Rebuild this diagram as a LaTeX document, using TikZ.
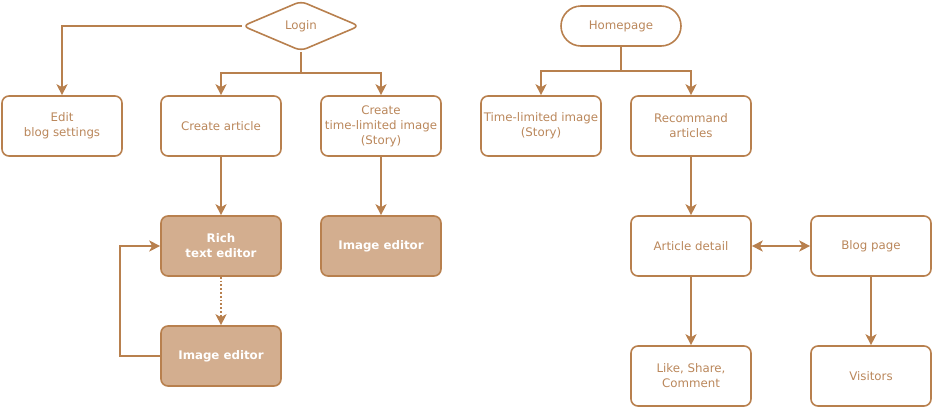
\documentclass[tikz,border=0pt]{standalone}
\usepackage{fontspec}
\setmainfont{DejaVu Sans}
\usetikzlibrary{arrows.meta,shapes.geometric}
\definecolor{brd}{HTML}{B8804E}
\definecolor{txt}{HTML}{BA875B}
\definecolor{fil}{HTML}{D3AE8F}
\tikzset{
  box/.style={draw=brd, line width=1.6pt, rounded corners=7pt, minimum width=120pt, minimum height=60pt, inner sep=1pt, align=center, text=txt, font=\fontsize{11.8}{15}\selectfont},
  darkbox/.style={box, fill=fil, text=white, font=\fontsize{11.8}{15}\selectfont\bfseries},
  mytip/.tip={Stealth[length=11pt,width=11pt,inset=3pt]},
  conn/.style={draw=brd, line width=1.8pt, -mytip},
  plainline/.style={draw=brd, line width=1.8pt},
}
\begin{document}
\begin{tikzpicture}[x=1pt,y=-1pt]
\useasboundingbox (0,0) rectangle (932,407);
% nodes
\node[diamond, aspect=2.4, draw=brd, line width=1.6pt, rounded corners=6pt, minimum width=117pt, minimum height=50pt, inner sep=0pt, text=txt, font=\fontsize{11.8}{15}\selectfont] (login) at (301,26) {Login};
\node[box] (edit) at (62,126) {Edit\\blog settings};
\node[box] (create) at (221,126) {Create article};
\node[box] (ctime) at (381,126) {Create\\time-limited image\\(Story)};
\node[darkbox] (rich) at (221,246) {Rich\\text editor};
\node[darkbox] (imgr) at (381,246) {Image editor};
\node[darkbox] (imgb) at (221,356) {Image editor};
\node[box, rounded corners=20pt, minimum height=40pt] (home) at (621,26) {Homepage};
\node[box] (story) at (541,126) {Time-limited image\\(Story)};
\node[box] (rec) at (691,126) {Recommand\\articles};
\node[box] (art) at (691,246) {Article detail};
\node[box] (blog) at (871,246) {Blog page};
\node[box] (like) at (691,376) {Like, Share,\\Comment};
\node[box] (vis) at (871,376) {Visitors};
% helper coordinates
\coordinate (lsplit) at (301,73);
\coordinate (hsplit) at (621,71);
% connectors
\draw[conn] (login.west) -| (edit.north);
\draw[plainline] (login.south) -- (lsplit);
\draw[conn] (lsplit) -| (create.north);
\draw[conn] (lsplit) -| (ctime.north);
\draw[conn] (create) -- (rich);
\draw[conn] (ctime) -- (imgr);
\draw[conn, dotted] (rich) -- (imgb);
\draw[conn] (imgb.west) -- ++(-40,0) |- (rich.west);
\draw[plainline] (home.south) -- (hsplit);
\draw[conn] (hsplit) -| (story.north);
\draw[conn] (hsplit) -| (rec.north);
\draw[conn] (rec) -- (art);
\draw[conn, mytip-mytip] (art) -- (blog);
\draw[conn] (art) -- (like);
\draw[conn] (blog) -- (vis);
\end{tikzpicture}
\end{document}
